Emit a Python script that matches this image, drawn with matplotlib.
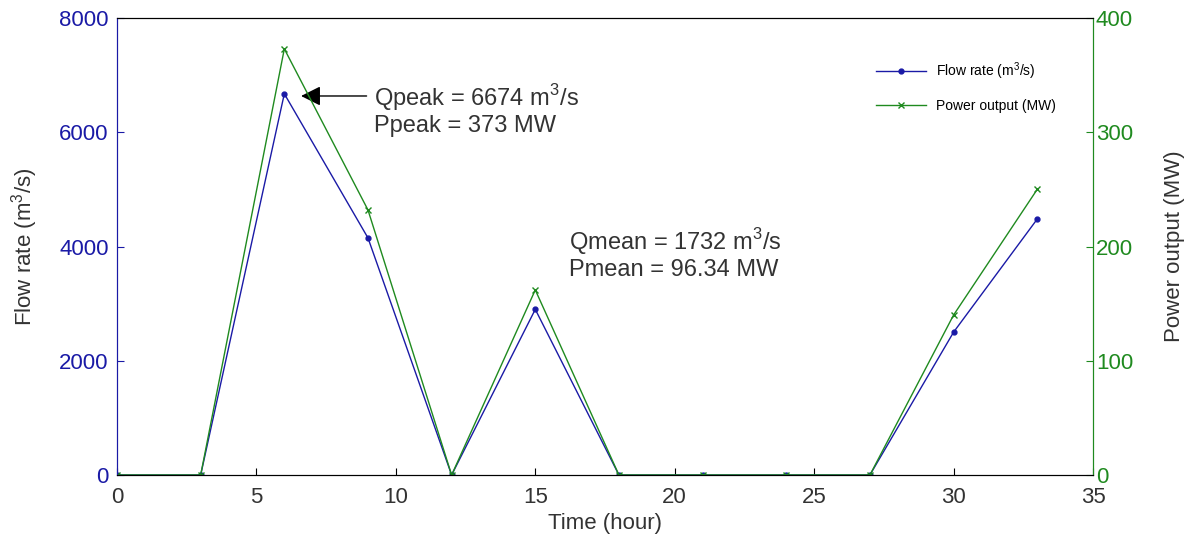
import numpy as np
import matplotlib.pyplot as plt

plt.rcParams['font.family'] = ['Liberation Sans', 'DejaVu Sans']
plt.rcParams['mathtext.fontset'] = 'custom'
plt.rcParams['mathtext.rm'] = 'Liberation Sans'

# Time series
hours = [0, 3, 6, 9, 12, 15, 18, 21, 24, 27, 30, 33]
flow_rate = [0, 0, 6674, 4150, 0, 2900, 0, 0, 0, 0, 2500, 4480]
power_out = [0, 0, 373, 232, 0, 162, 0, 0, 0, 0, 140, 250]

x_ticks = [0, 5, 10, 15, 20, 25, 30, 35]
flow_ticks = [0, 2000, 4000, 6000, 8000]
power_ticks = [0, 100, 200, 300, 400]

blue = '#1a1aa6'
green = '#1f8a1f'
grey = '#333333'

fig = plt.figure(figsize=(11.94, 5.41), dpi=100)
ax = fig.add_axes([0.098, 0.122, 0.8174, 0.8447])
ax2 = ax.twinx()

l1, = ax.plot(hours, flow_rate, color=blue, lw=1.0, marker='.', ms=7,
              label='Flow rate (m$^3$/s)')
l2, = ax2.plot(hours, power_out, color=green, lw=1.0, marker='x', ms=5,
               mew=1.0, label='Power output (MW)')

ax.set_xlim(0, 35)
ax.set_ylim(0, 8000)
ax2.set_ylim(0, 400)
ax.set_xticks(x_ticks)
ax.set_yticks(flow_ticks)
ax2.set_yticks(power_ticks)

ax.tick_params(axis='x', direction='in', labelsize=16, colors='black',
               labelcolor=grey, length=5, pad=9)
ax.tick_params(axis='y', direction='in', labelsize=16, colors=blue, length=5, pad=6)
ax2.tick_params(axis='y', direction='in', labelsize=16, colors=green, length=5, pad=2)

ax.spines['left'].set_color(blue)
ax2.spines['left'].set_color(blue)
ax2.spines['right'].set_color(green)
ax.spines['right'].set_color(green)

ax.set_xlabel('Time (hour)', fontsize=16, color=grey, labelpad=3)
ax.set_ylabel('Flow rate (m$^3$/s)', fontsize=16, color=grey, labelpad=14)
ax2.set_ylabel('Power output (MW)', fontsize=16, color=grey, labelpad=22)

# peak annotation: arrow plus two-line text
ax.annotate('', xy=(6.5, 6635), xytext=(9.05, 6635),
            arrowprops=dict(arrowstyle='-|>', color='black', lw=1.0,
                            mutation_scale=30))
ax.text(9.2, 6400, 'Qpeak = 6674 m$^3$/s\nPpeak = 373 MW', fontsize=17,
        color=grey, va='center', ha='left', linespacing=1.1)
ax.text(16.2, 3880, 'Qmean = 1732 m$^3$/s\nPmean = 96.34 MW', fontsize=17,
        color=grey, va='center', ha='left', linespacing=1.1)

ax.legend(handles=[l1, l2], loc='upper right', frameon=False, fontsize=10,
          bbox_to_anchor=(0.975, 0.935), handlelength=3.6, labelspacing=1.25,
          handletextpad=0.7)

fig.savefig('out.png', dpi=100)
